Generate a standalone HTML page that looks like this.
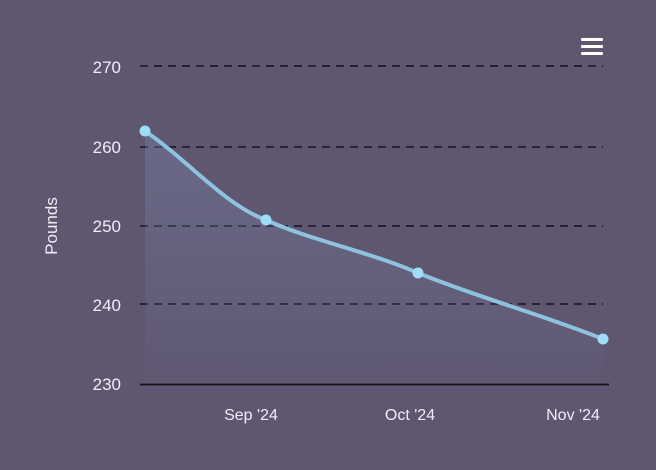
<!DOCTYPE html>
<html><head><style>
html,body{margin:0;padding:0;background:#5f566f;}
svg{display:block;font-family:"Liberation Sans",sans-serif;}
</style></head><body>
<svg width="656" height="470" viewBox="0 0 656 470">
<rect width="656" height="470" fill="#5f566f"/>
<defs><linearGradient id="g" x1="0" y1="0" x2="0" y2="1">
<stop offset="0" stop-color="#7a8fb8" stop-opacity="0.35"/>
<stop offset="1" stop-color="#7a8fb8" stop-opacity="0.03"/>
</linearGradient></defs>
<g stroke="#15121a" stroke-width="1.5" stroke-dasharray="8,6">
<line x1="140" y1="66" x2="603" y2="66"/>
<line x1="140" y1="147" x2="603" y2="147"/>
<line x1="140" y1="226" x2="603" y2="226"/>
<line x1="140" y1="304" x2="603" y2="304"/>
</g>
<line x1="140" y1="384.5" x2="609" y2="384.5" stroke="#15121a" stroke-width="1.8"/>
<path d="M145,131 C190,162 225,205 266,220 C310,240 370,252 418,273 C480,298 540,314 603,339 L603,384 L145,384 Z" fill="url(#g)"/>
<path d="M145,131 C190,162 225,205 266,220 C310,240 370,252 418,273 C480,298 540,314 603,339" fill="none" stroke="#8ec3e0" stroke-width="4"/>
<g fill="#9fdcf5">
<circle cx="145" cy="131" r="5.5"/><circle cx="266" cy="220" r="5.5"/>
<circle cx="418" cy="273" r="5.5"/><circle cx="603" cy="339" r="5.5"/>
</g>
<g fill="#f2ecf7" font-size="17" text-anchor="end">
<text x="121" y="73">270</text><text x="121" y="153">260</text>
<text x="121" y="232">250</text><text x="121" y="311">240</text>
<text x="121" y="390">230</text>
</g>
<text transform="translate(57,226) rotate(-90)" fill="#f2ecf7" font-size="17" text-anchor="middle">Pounds</text>
<g fill="#f2ecf7" font-size="16" text-anchor="middle">
<text x="251" y="420">Sep '24</text><text x="410" y="420">Oct '24</text><text x="573" y="420">Nov '24</text>
</g>
<g fill="#fff"><rect x="581" y="38" width="22" height="3" rx="1"/><rect x="581" y="45" width="22" height="3" rx="1"/><rect x="581" y="52" width="22" height="3" rx="1"/></g>
</svg>
</body></html>
